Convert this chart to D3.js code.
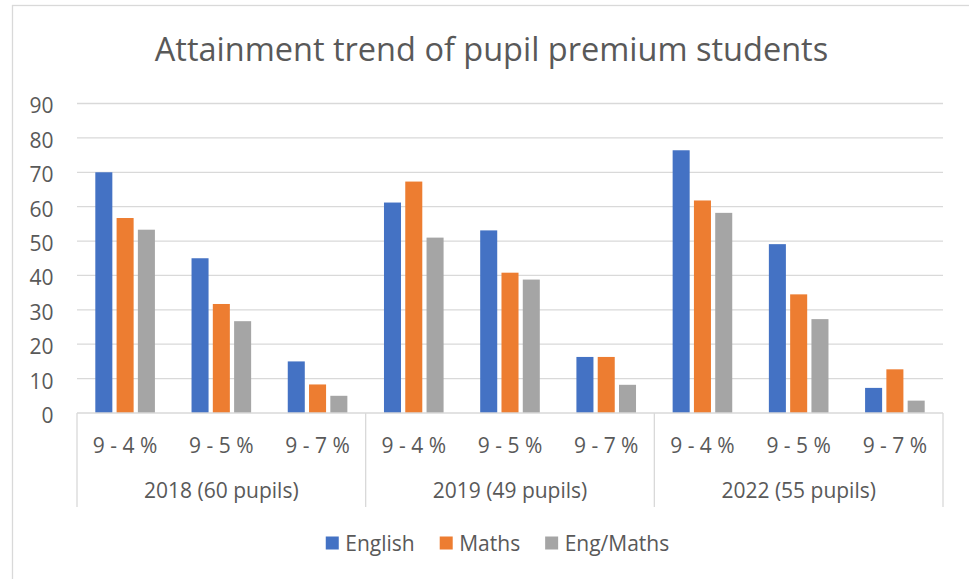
<!DOCTYPE html>
<html>
<head>
<meta charset="utf-8">
<script src="https://cdn.jsdelivr.net/npm/d3@7"></script>
<style>
  body { margin: 0; background: #fff; }
  text { font-family: "Open Sans", sans-serif; fill: #595959; }
</style>
</head>
<body>
<svg id="chart" width="969" height="579"></svg>
<script>
// chart values
var years = ["2018 (60 pupils)", "2019 (49 pupils)", "2022 (55 pupils)"];
var grades = ["9 - 4 %", "9 - 5 %", "9 - 7 %"];
var seriesNames = ["English", "Maths", "Eng/Maths"];
var english  = [70.0, 45.0, 15.0, 61.2, 53.1, 16.3, 76.4, 49.1, 7.3];
var maths    = [56.7, 31.7, 8.3, 67.3, 40.8, 16.3, 61.8, 34.5, 12.7];
var engMaths = [53.3, 26.7, 5.0, 51.0, 38.8, 8.2, 58.2, 27.3, 3.6];
var yTicks = [0, 10, 20, 30, 40, 50, 60, 70, 80, 90];

var colors = ["#4472C4", "#ED7D31", "#A5A5A5"];
var seriesValues = [english, maths, engMaths];

var svg = d3.select("#chart");

// frame round the chart (runs off the right and bottom edges)
svg.append("rect")
    .attr("x", 12.5).attr("y", 5.5)
    .attr("width", 1000).attr("height", 1000)
    .attr("fill", "none").attr("stroke", "#D9D9D9").attr("stroke-width", 1.3);

var plotLeft = 77, plotRight = 943, plotTop = 103.5, plotBottom = 413;

var y = d3.scaleLinear().domain([0, 90]).range([plotBottom, plotTop]);
var xYear = d3.scaleBand().domain(years).range([plotLeft, plotRight]).padding(0);
var xGrade = d3.scaleBand().domain(grades).range([0, xYear.bandwidth()]).padding(0);
var xSeries = d3.scaleBand().domain(seriesNames).range([0, xGrade.bandwidth()])
    .paddingInner(0.2).paddingOuter(0.86);

// gridlines
svg.append("g").selectAll("line")
    .data(yTicks.filter(function(d) { return d > 0; }))
    .enter().append("line")
    .attr("x1", plotLeft).attr("x2", plotRight)
    .attr("y1", function(d) { return y(d); }).attr("y2", function(d) { return y(d); })
    .attr("stroke", "#D9D9D9").attr("stroke-width", 1.3);

// y axis labels
var yAxis = svg.append("g")
    .attr("transform", "translate(" + plotLeft + ",0)")
    .call(d3.axisLeft(y).tickValues(yTicks).tickSize(0).tickPadding(23.5));
yAxis.select(".domain").remove();
yAxis.selectAll("text")
    .attr("dy", "0.45em")
    .style("font-family", "'Open Sans', sans-serif")
    .style("font-size", "21px")
    .attr("fill", "#595959");

// flatten rows for bars
var rows = [];
years.forEach(function(yr, i) {
  grades.forEach(function(g, j) {
    seriesNames.forEach(function(s, k) {
      rows.push({ year: yr, grade: g, series: s, k: k, value: seriesValues[k][i * 3 + j] });
    });
  });
});

svg.append("g").selectAll("rect")
    .data(rows)
    .enter().append("rect")
    .attr("x", function(d) { return xYear(d.year) + xGrade(d.grade) + xSeries(d.series); })
    .attr("y", function(d) { return y(d.value); })
    .attr("width", xSeries.bandwidth())
    .attr("height", function(d) { return y(0) - y(d.value); })
    .attr("fill", function(d) { return colors[d.k]; });

// category axis line and separators
svg.append("line")
    .attr("x1", plotLeft).attr("x2", plotRight).attr("y1", plotBottom).attr("y2", plotBottom)
    .attr("stroke", "#D9D9D9").attr("stroke-width", 1.3);

var seps = years.map(function(yr) { return xYear(yr); }).concat([plotRight]);
svg.append("g").selectAll("line")
    .data(seps)
    .enter().append("line")
    .attr("x1", function(d) { return d; }).attr("x2", function(d) { return d; })
    .attr("y1", plotBottom).attr("y2", 507)
    .attr("stroke", "#D9D9D9").attr("stroke-width", 1.3);

// grade labels
var gradeCells = [];
years.forEach(function(yr) { grades.forEach(function(g) { gradeCells.push({ year: yr, grade: g }); }); });
svg.append("g").selectAll("text")
    .data(gradeCells)
    .enter().append("text")
    .attr("x", function(d) { return xYear(d.year) + xGrade(d.grade) + xGrade.bandwidth() / 2; })
    .attr("y", 453)
    .attr("text-anchor", "middle")
    .style("font-size", "21px")
    .text(function(d) { return d.grade; });

// year labels
svg.append("g").selectAll("text")
    .data(years)
    .enter().append("text")
    .attr("x", function(d) { return xYear(d) + xYear.bandwidth() / 2; })
    .attr("y", 497.5)
    .attr("text-anchor", "middle")
    .style("font-size", "21px")
    .text(function(d) { return d; });

// title
svg.append("text")
    .attr("x", 491.5).attr("y", 61)
    .attr("text-anchor", "middle")
    .style("font-size", "32.5px")
    .text("Attainment trend of pupil premium students");

// legend
var legend = svg.append("g");
var lx = 0;
var items = legend.selectAll("g")
    .data(seriesNames)
    .enter().append("g");
items.append("rect")
    .attr("width", 13).attr("height", 13)
    .attr("y", 536.5)
    .attr("fill", function(d, i) { return colors[i]; });
items.append("text")
    .attr("x", 19.5).attr("y", 550.5)
    .style("font-size", "21px")
    .text(function(d) { return d; });
items.each(function() {
  var g = d3.select(this);
  g.attr("transform", "translate(" + lx + ",0)");
  lx += 19.5 + g.select("text").node().getComputedTextLength() + 25;
});
var legendWidth = lx - 25;
legend.attr("transform", "translate(" + (497.5 - legendWidth / 2) + ",0)");
</script>
</body>
</html>
